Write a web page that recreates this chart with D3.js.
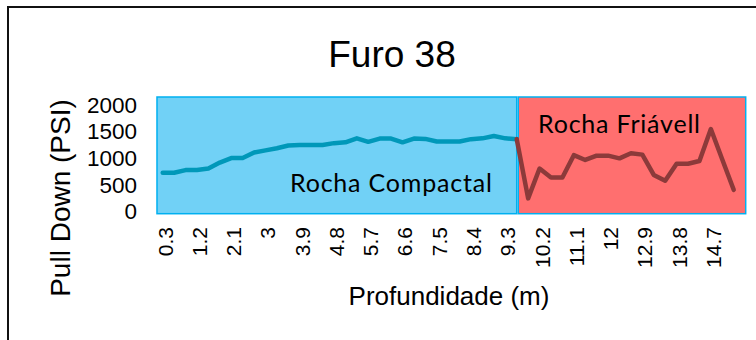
<!DOCTYPE html>
<html><head><meta charset="utf-8">
<script src="https://cdn.jsdelivr.net/npm/d3@7"></script>
<style>body{margin:0;background:#fff;}svg{display:block;}</style>
</head><body>
<svg id="c" width="756" height="340"></svg>
<script>
const categories = [0.3,0.6,0.9,1.2,1.5,1.8,2.1,2.4,2.7,3,3.3,3.6,3.9,4.2,4.5,4.8,5.1,5.4,5.7,6,6.3,6.6,6.9,7.2,7.5,7.8,8.1,8.4,8.7,9,9.3,9.6,9.9,10.2,10.5,10.8,11.1,11.4,11.7,12,12.3,12.6,12.9,13.2,13.5,13.8,14.1,14.4,14.7,15,15.3];
const tickLabels = [0.3,1.2,2.1,3,3.9,4.8,5.7,6.6,7.5,8.4,9.3,10.2,11.1,12,12.9,13.8,14.7];
const yTicks = [0,500,1000,1500,2000];
const compacta = [730,730,780,780,810,920,1005,1005,1110,1150,1190,1240,1250,1250,1250,1285,1300,1375,1310,1370,1370,1300,1370,1365,1315,1315,1315,1360,1375,1420,1375,1360];
const friavel = [1360,250,810,640,640,1060,970,1050,1050,1000,1095,1070,690,580,900,900,950,1550,980,410];
const friavelStart = 9.6;
const zones = [
  {name:"Rocha Compactal", from:0.3, to:9.6},
  {name:"Rocha Friávell", from:9.6, to:15.3}
];

const svg = d3.select("#c");
const x = d3.scalePoint().domain(categories).range([162.7, 733.7]);
const step = x.step();
const y = d3.scaleLinear().domain([0,2000]).range([211.7,105]);
const arial = "'Liberation Sans', Arial, sans-serif";
const calibri = "Lato, 'Open Sans', sans-serif";

// outer chart border
svg.append("rect").attr("x",8).attr("y",7).attr("width",800).attr("height",400)
  .attr("fill","none").attr("stroke","#111").attr("stroke-width",2);

// zones
const zTop = y(2150), zBot = y(0)+2;
svg.append("rect").attr("x", x(zones[0].from)-step/2).attr("y", zTop)
  .attr("width", x(zones[0].to)-(x(zones[0].from)-step/2)).attr("height", zBot-zTop)
  .attr("fill","#71d1f6").attr("stroke","#00b0f0").attr("stroke-width",1.5);
svg.append("rect").attr("x", x(zones[1].from)+1.5).attr("y", zTop)
  .attr("width", x(zones[1].to)+12 - (x(zones[1].from)+1.5)).attr("height", zBot-zTop)
  .attr("fill","#ff6f6f").attr("stroke","#00b0f0").attr("stroke-width",1.5);

// zone labels
svg.append("text").attr("x",290).attr("y",192).attr("font-family",calibri)
  .attr("font-size",25).attr("letter-spacing",0.8).attr("fill","#000").text(zones[0].name);
svg.append("text").attr("x",538).attr("y",133).attr("font-family",calibri)
  .attr("font-size",25).attr("letter-spacing",0.8).attr("fill","#000").text(zones[1].name);

// lines
const line = d3.line().defined(d=>d.v!=null).x(d=>x(d.c)).y(d=>y(d.v));
const dC = compacta.map((v,i)=>({c:categories[i], v}));
const i0 = categories.indexOf(friavelStart);
const dF = friavel.map((v,i)=>({c:categories[i0+i], v}));
svg.append("path").datum(dC).attr("d",line).attr("fill","none")
  .attr("stroke","#0098b9").attr("stroke-width",4.5).attr("stroke-linejoin","round").attr("stroke-linecap","round");
svg.append("path").datum(dF).attr("d",line).attr("fill","none")
  .attr("stroke","#8c3a3a").attr("stroke-width",4.5).attr("stroke-linejoin","round").attr("stroke-linecap","round");

// y axis
const ya = svg.append("g").attr("transform","translate(157,0)")
  .call(d3.axisLeft(y).tickValues(yTicks).tickFormat(d3.format("d")).tickSize(0).tickPadding(20));
ya.select(".domain").remove();
ya.selectAll("text").attr("font-family",arial).attr("font-size",22.5).attr("fill","#000");

// x axis
const xa = svg.append("g").attr("transform","translate(0,213)")
  .call(d3.axisBottom(x).tickValues(tickLabels).tickSize(0));
xa.select(".domain").remove();
xa.selectAll("text").attr("font-family",arial).attr("font-size",21).attr("fill","#000")
  .attr("transform","rotate(-90)").attr("x",-14).attr("y",0).attr("dy","0.45em").attr("text-anchor","end");

// titles
svg.append("text").attr("x",392).attr("y",67).attr("text-anchor","middle")
  .attr("font-family",arial).attr("font-size",37).text("Furo 38");
svg.append("text").attr("x",449).attr("y",305).attr("text-anchor","middle")
  .attr("font-family",arial).attr("font-size",26).text("Profundidade (m)");
svg.append("text").attr("transform","translate(70,198) rotate(-90)").attr("text-anchor","middle")
  .attr("font-family",arial).attr("font-size",28).text("Pull Down (PSI)");
</script>
</body></html>
